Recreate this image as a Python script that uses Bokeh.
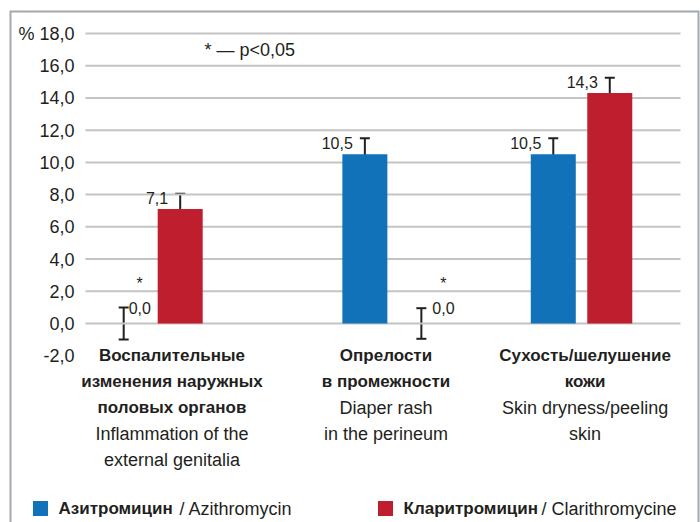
from bokeh.plotting import figure
from bokeh.models import Range1d, ColumnDataSource, Whisker, TeeHead
from bokeh.core.properties import value
from bokeh.embed import file_html
from bokeh.resources import INLINE

# ---------------- data ----------------
cat_ru = [["Воспалительные", "изменения наружных", "половых органов"],
          ["Опрелости", "в промежности"],
          ["Сухость/шелушение", "кожи"]]
cat_en = [["Inflammation of the", "external genitalia"],
          ["Diaper rash", "in the perineum"],
          ["Skin dryness/peeling", "skin"]]
series_ru = ["Азитромицин", "Кларитромицин"]
series_en = ["Azithromycin", "Clarithromycine"]
azithro = [0.0, 10.5, 10.5]
clarithro = [7.1, 0.0, 14.3]
azithro_err = [1.0, 1.0, 1.0]
clarithro_err = [0.95, 0.95, 0.95]
azithro_sig = [True, False, False]
clarithro_sig = [False, True, False]
y_ticks = [-2, 0, 2, 4, 6, 8, 10, 12, 14, 16, 18]
note = "* — p<0,05"

# ---------------- layout / style ----------------
BLUE = "#1172b9"
RED = "#be1e2d"
TXT = "#231f20"
GRID = "#c4c4c4"
BORDER = "#a4a9ae"
FONT = "Liberation Sans"

PX_X = 198.333   # px per category unit
PX_Y = 16.111    # px per % unit
X0PX, Y0PX = 85, 323   # pixel position of (0, 0) on the canvas


def xd(px):
    return (px - X0PX) / PX_X


def yd(px):
    return (Y0PX - px) / PX_Y


GROUP_POS = [0.335, 1.551, 2.501]
LABEL_POS = [0.436, 1.515, 2.519]
HALF = 28.25 / PX_X
BAR_W = 45 / PX_X

p = figure(width=700, height=522,
           x_range=Range1d(xd(9), xd(699)), y_range=Range1d(yd(522), yd(10)),
           x_axis_type=None, y_axis_type=None,
           output_backend="svg", toolbar_location=None,
           min_border_left=9, min_border_right=1, min_border_top=10, min_border_bottom=0)
p.outline_line_color = None
p.background_fill_color = "white"
p.border_fill_color = "white"

# outer frame (left, top, right)
p.line(x=[xd(9), xd(9), xd(699), xd(699)], y=[yd(540), yd(10), yd(10), yd(540)],
       line_color=BORDER, line_width=4)

# gridlines
gy = [t for t in y_ticks if t >= 0]
p.segment(x0=[0] * len(gy), x1=[3] * len(gy), y0=gy, y1=gy, line_color=GRID, line_width=2)

# tick labels
tick_labels = [("% " if t == max(y_ticks) else "") + f"{t:.1f}".replace(".", ",") for t in y_ticks]
p.text(x=[0] * len(y_ticks), y=y_ticks, text=tick_labels, x_offset=-11,
       text_align="right", text_baseline="middle", text_font=value(FONT),
       text_font_size="18px", text_color=TXT)

# note
p.text(x=[xd(204)], y=[yd(49)], text=[note], text_align="left", text_baseline="middle",
       text_font=value(FONT), text_font_size="18px", text_color=TXT)

# bars
series = [(azithro, azithro_err, azithro_sig, BLUE, -1, 5),
          (clarithro, clarithro_err, clarithro_sig, RED, 1, 11)]
for vals, errs, sig, col, side, zdx in series:
    xs = [g + side * HALF for g in GROUP_POS]
    p.vbar(x=xs, top=vals, bottom=0, width=BAR_W, fill_color=col, line_color=None)
    src = ColumnDataSource(dict(x=xs, lower=[v - e for v, e in zip(vals, errs)],
                                upper=[v + e for v, e in zip(vals, errs)]))
    w = Whisker(source=src, base="x", lower="lower", upper="upper",
                line_color=TXT, line_width=2,
                lower_head=TeeHead(size=10, line_color=TXT, line_width=2),
                upper_head=TeeHead(size=10, line_color=TXT, line_width=2))
    p.add_layout(w)
    labels = [f"{v:.1f}".replace(".", ",") for v in vals]
    nz = [i for i, v in enumerate(vals) if v > 0]
    zz = [i for i, v in enumerate(vals) if v == 0]
    p.text(x=[xs[i] for i in nz], y=[vals[i] for i in nz], text=[labels[i] for i in nz],
           x_offset=-12, y_offset=-11, text_align="right", text_baseline="middle",
           text_font=value(FONT), text_font_size="16px", text_color=TXT)
    p.text(x=[xs[i] for i in zz], y=[vals[i] for i in zz], text=[labels[i] for i in zz],
           x_offset=zdx, y_offset=-15.5, text_align="left", text_baseline="middle",
           text_font=value(FONT), text_font_size="16px", text_color=TXT)
    si = [i for i in range(len(vals)) if sig[i]]
    p.text(x=[xs[i] for i in si], y=[vals[i] for i in si], text=["*"] * len(si),
           x_offset=zdx + 11, y_offset=-40, text_align="center", text_baseline="alphabetic",
           text_font=value(FONT), text_font_size="16px", text_color=TXT)

# category labels
bx, by, bt, nx, ny, nt = [], [], [], [], [], []
for i in range(len(cat_ru)):
    row = 0
    for line in cat_ru[i]:
        bx.append(LABEL_POS[i]); by.append(yd(355 + 26 * row)); bt.append(line); row += 1
    for line in cat_en[i]:
        nx.append(LABEL_POS[i]); ny.append(yd(355 + 26 * row)); nt.append(line); row += 1
p.text(x=bx, y=by, text=bt, text_align="center", text_baseline="middle",
       text_font=value(FONT), text_font_style="bold", text_font_size="17px", text_color=TXT)
p.text(x=nx, y=ny, text=nt, text_align="center", text_baseline="middle",
       text_font=value(FONT), text_font_size="18px", text_color=TXT)

# legend
LEG_X = [xd(40), xd(385)]
LEG_SLASH = [xd(179), xd(541)]
p.scatter(x=LEG_X, y=[yd(508)] * 2, marker="square", size=15,
          fill_color=[BLUE, RED], line_color=None)
p.text(x=LEG_X, y=[yd(508)] * 2, text=series_ru, x_offset=18, text_align="left",
       text_baseline="middle", text_font=value(FONT), text_font_style="bold",
       text_font_size="17px", text_color=TXT)
p.text(x=LEG_SLASH, y=[yd(508)] * 2, text=["/ " + s for s in series_en], text_align="left",
       text_baseline="middle", text_font=value(FONT), text_font_size="18px", text_color=TXT)

open("out.html", "w").write(file_html(p, INLINE))
